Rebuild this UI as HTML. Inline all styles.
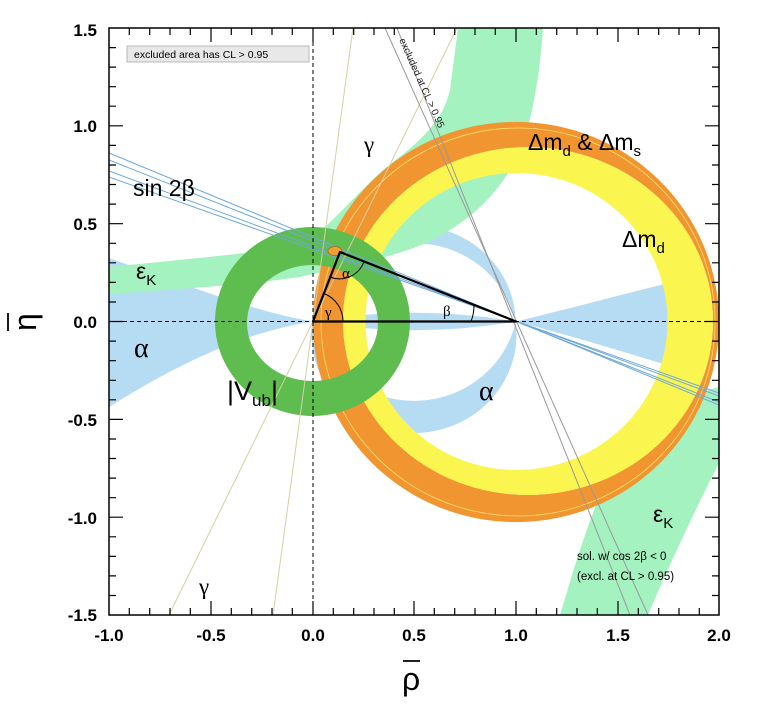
<!DOCTYPE html>
<html><head><meta charset="utf-8"><style>
html,body{margin:0;padding:0;background:#fff;}
svg{display:block;font-family:"Liberation Sans",sans-serif;}
</style></head><body>
<svg width="777" height="706" viewBox="0 0 777 706" xmlns="http://www.w3.org/2000/svg">
<defs>
<clipPath id="plot"><rect x="109" y="28" width="610" height="587"/></clipPath>
<clipPath id="up"><rect x="109" y="28" width="610" height="293.5"/></clipPath>
<clipPath id="dn"><rect x="109" y="321.5" width="610" height="294"/></clipPath>
</defs>
<g clip-path="url(#plot)">
<!-- blue alpha regions -->
<g fill="#b6dcf4">
<path d="M109,258 C200,290 260,313 313,321.5 C260,330 200,350 109,407 Z"/>
<path d="M516,321.5 C580,306 630,292 690,278 L690,372 C630,354 580,338 516,321.5 Z"/>
<path d="M313,321.5 Q414,304 516,321.5 Q414,339 313,321.5 Z"/>
<g clip-path="url(#up)"><path fill-rule="evenodd" d="M312.3,323.5 a101.7,97.9 0 1,0 203.4,0 a101.7,97.9 0 1,0 -203.4,0 Z M309.9,343.5 a104.1,100.2 0 1,0 208.2,0 a104.1,100.2 0 1,0 -208.2,0 Z"/></g>
<g clip-path="url(#dn)"><path fill-rule="evenodd" d="M311.5,334.4 a102.5,98.6 0 1,0 205,0 a102.5,98.6 0 1,0 -205,0 Z M310.1,300.8 a103.9,100 0 1,0 207.8,0 a103.9,100 0 1,0 -207.8,0 Z"/></g>
</g>
<!-- eps K bands -->
<g fill="#a4f2bf">
<path d="M458,28 L543,28 C538,100 525,150 507,175 C490,200 470,220 433,240 C400,255 367,262 300,277 C250,284 200,288 109,294 L109,267 C200,258 260,252 300,246 C325,232 345,205 383,170 C415,145 442,125 450,90 Z"/>
<path d="M560,615 L648,615 C665,575 690,520 719,463 L719,387 C700,392 685,398 673,407 C650,415 640,425 633,433 C620,450 610,470 600,495 C590,520 583,540 572,575 Z"/>
</g>
<!-- Dm rings -->
<path fill="#f0952f" fill-rule="evenodd" d="M313,322 a203,200 0 1,0 406,0 a203,200 0 1,0 -406,0 Z M343,321 a185,174 0 1,0 370,0 a185,174 0 1,0 -370,0 Z"/>
<path fill="#fbf550" fill-rule="evenodd" d="M343,321 a185,174 0 1,0 370,0 a185,174 0 1,0 -370,0 Z M365.5,321.5 a151,148.5 0 1,0 302,0 a151,148.5 0 1,0 -302,0 Z"/>
<ellipse cx="518" cy="322" rx="197" ry="194" fill="none" stroke="#f8e070" stroke-width="0.8"/>
<!-- Vub ring -->
<path fill="#5fbd4f" fill-rule="evenodd" d="M215,321.5 a97.5,94.5 0 1,0 195,0 a97.5,94.5 0 1,0 -195,0 Z M247,323 a65.5,58 0 1,0 131,0 a65.5,58 0 1,0 -131,0 Z"/>
<!-- gamma lines -->
<g stroke="#d6cfa2" stroke-width="1" fill="none">
<line x1="457" y1="28" x2="169" y2="615"/>
<line x1="353" y1="28" x2="273" y2="615"/>
</g>
<!-- sin2beta lines -->
<g stroke="#6ea8dc" stroke-width="1">
<line x1="109" y1="153" x2="719" y2="405"/>
<line x1="109" y1="160" x2="719" y2="402"/>
<line x1="109" y1="171" x2="719" y2="396"/>
<line x1="109" y1="177" x2="719" y2="393"/>
</g>
<!-- cos2b gray lines -->
<g stroke="#999" stroke-width="1">
<line x1="385" y1="28" x2="648" y2="615"/>
<line x1="397" y1="28" x2="630" y2="615"/>
</g>
<text x="0" y="0" font-size="10" fill="#222" transform="translate(399,40) rotate(65.9)">excluded at CL &gt; 0.95</text>
<!-- dashed axes -->
<line x1="109" y1="321.5" x2="719" y2="321.5" stroke="#000" stroke-width="1" stroke-dasharray="4,3"/>
<line x1="313" y1="28" x2="313" y2="615" stroke="#000" stroke-width="1" stroke-dasharray="4,3"/>
<!-- triangle -->
<ellipse cx="335" cy="251" rx="7" ry="4.5" fill="#f0a030" stroke="#b06010" stroke-width="0.8"/>
<polygon points="313,321.5 340,252 516,321.5" fill="none" stroke="#000" stroke-width="2.2" stroke-linejoin="round"/>
<g fill="none" stroke="#000" stroke-width="1">
<path d="M343,321.5 A30,30 0 0,0 324,293.5"/>
<path d="M330,277 A26,26 0 0,0 364,261.5"/>
<path d="M471,321.5 A45,45 0 0,0 474,305"/>
</g>
<g font-family="Liberation Serif,serif" font-size="15" fill="#000">
<text x="325" y="317">γ</text>
<text x="342" y="278">α</text>
<text x="443" y="316">β</text>
</g>
</g>
<!-- frame -->
<rect x="109" y="28" width="610" height="587" fill="none" stroke="#000" stroke-width="1.5"/>
<g stroke="#000" stroke-width="1.2" id="ticks">
<!-- x major ticks -->
<path d="M211,615v-14M313,615v-14M414,615v-14M516,615v-14M618,615v-14M211,28v14M313,28v14M414,28v14M516,28v14M618,28v14"/>
<path d="M129.3,615v-7M149.7,615v-7M170,615v-7M190.3,615v-7M231.3,615v-7M251.7,615v-7M272,615v-7M292.3,615v-7M333.3,615v-7M353.7,615v-7M374,615v-7M394.3,615v-7M434.3,615v-7M454.7,615v-7M475,615v-7M495.3,615v-7M536.3,615v-7M556.7,615v-7M577,615v-7M597.3,615v-7M638.3,615v-7M658.7,615v-7M679,615v-7M699.3,615v-7"/>
<path d="M129.3,28v7M149.7,28v7M170,28v7M190.3,28v7M231.3,28v7M251.7,28v7M272,28v7M292.3,28v7M333.3,28v7M353.7,28v7M374,28v7M394.3,28v7M434.3,28v7M454.7,28v7M475,28v7M495.3,28v7M536.3,28v7M556.7,28v7M577,28v7M597.3,28v7M638.3,28v7M658.7,28v7M679,28v7M699.3,28v7"/>
<!-- y major -->
<path d="M109,125.8h14M109,223.7h14M109,321.5h14M109,419.4h14M109,517.2h14M719,125.8h-14M719,223.7h-14M719,321.5h-14M719,419.4h-14M719,517.2h-14"/>
<path d="M109,47.6h7M109,67.1h7M109,86.7h7M109,106.2h7M109,145.4h7M109,165h7M109,184.5h7M109,204.1h7M109,243.3h7M109,262.8h7M109,282.4h7M109,302h7M109,341.1h7M109,360.7h7M109,380.3h7M109,399.8h7M109,439h7M109,458.5h7M109,478.1h7M109,497.7h7M109,536.8h7M109,556.4h7M109,575.9h7M109,595.5h7"/>
<path d="M719,47.6h-7M719,67.1h-7M719,86.7h-7M719,106.2h-7M719,145.4h-7M719,165h-7M719,184.5h-7M719,204.1h-7M719,243.3h-7M719,262.8h-7M719,282.4h-7M719,302h-7M719,341.1h-7M719,360.7h-7M719,380.3h-7M719,399.8h-7M719,439h-7M719,458.5h-7M719,478.1h-7M719,497.7h-7M719,536.8h-7M719,556.4h-7M719,575.9h-7M719,595.5h-7"/>
</g>
<!-- tick labels -->
<g font-size="17" font-weight="bold" fill="#000" text-anchor="end">
<text x="97" y="36">1.5</text>
<text x="97" y="132">1.0</text>
<text x="97" y="230">0.5</text>
<text x="97" y="328">0.0</text>
<text x="97" y="426">-0.5</text>
<text x="97" y="524">-1.0</text>
<text x="97" y="621">-1.5</text>
</g>
<g font-size="17" font-weight="bold" fill="#000" text-anchor="middle">
<text x="109" y="641">-1.0</text>
<text x="211" y="641">-0.5</text>
<text x="313" y="641">0.0</text>
<text x="414" y="641">0.5</text>
<text x="516" y="641">1.0</text>
<text x="618" y="641">1.5</text>
<text x="719" y="641">2.0</text>
</g>
<!-- axis titles -->
<text x="402" y="690" font-size="32" fill="#000">ρ</text>
<line x1="403" y1="661" x2="420" y2="661" stroke="#000" stroke-width="1.8"/>
<g transform="translate(36,321) rotate(-90)">
<text x="-10" y="0" font-size="32" fill="#000">η</text>
<line x1="-10" y1="-28" x2="8" y2="-28" stroke="#000" stroke-width="1.8"/>
</g>
<!-- legend box -->
<rect x="127" y="46" width="182" height="16" fill="#e8e8e8" stroke="#aaa" stroke-width="0.8"/>
<text x="134" y="58" font-size="10.5" fill="#000">excluded area has CL &gt; 0.95</text>
<!-- region labels -->
<g fill="#000" font-size="23">
<text x="364" y="152" font-family="Liberation Serif,serif">γ</text>
<text x="133" y="196">sin 2β</text>
<text x="136" y="279">ε<tspan font-size="15" dy="6">K</tspan></text>
<text x="134" y="357" font-size="28" font-family="Liberation Serif,serif">α</text>
<text x="227" y="400" font-size="27">|V<tspan font-size="17" dy="6">ub</tspan><tspan dy="-6">|</tspan></text>
<text x="479" y="400" font-size="28" font-family="Liberation Serif,serif">α</text>
<text x="528" y="150">Δm<tspan font-size="15" dy="6">d</tspan><tspan dy="-6"> &amp; Δm</tspan><tspan font-size="15" dy="6">s</tspan></text>
<text x="622" y="247">Δm<tspan font-size="15" dy="6">d</tspan></text>
<text x="653" y="522">ε<tspan font-size="15" dy="6">K</tspan></text>
<text x="199" y="594" font-family="Liberation Serif,serif">γ</text>
</g>
<text x="577" y="560" font-size="11.5" fill="#000">sol. w/ cos 2β &lt; 0</text>
<text x="577" y="580" font-size="11.5" fill="#000">(excl. at CL &gt; 0.95)</text>
</svg>
</body></html>
